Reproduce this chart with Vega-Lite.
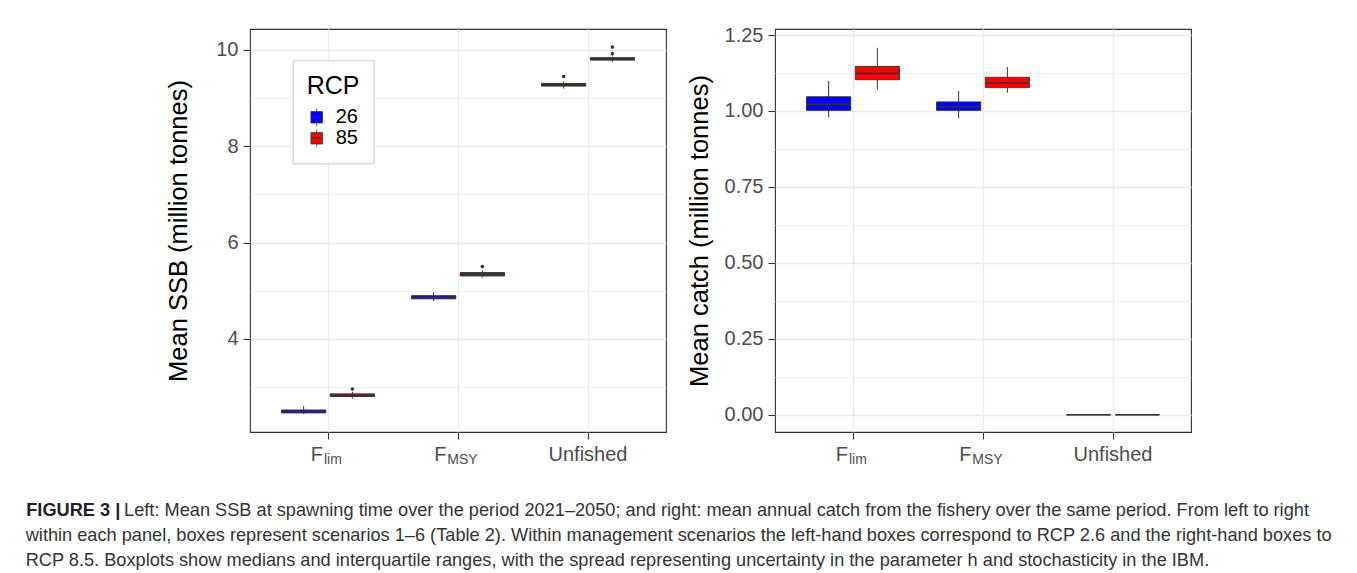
{
  "$schema": "https://vega.github.io/schema/vega-lite/v6.json",
  "padding": {"left": 25, "top": 24, "right": 5, "bottom": 0},
  "autosize": {"type": "pad"},
  "background": "#ffffff",
  "datasets": {
    "ssb": [
      {"scenario": "Flim", "rcp": "26", "lower": 2.44, "q1": 2.46, "median": 2.49, "q3": 2.52, "upper": 2.60},
      {"scenario": "Flim", "rcp": "85", "lower": 2.76, "q1": 2.80, "median": 2.825, "q3": 2.855, "upper": 2.90},
      {"scenario": "FMSY", "rcp": "26", "lower": 4.78, "q1": 4.83, "median": 4.86, "q3": 4.895, "upper": 4.97},
      {"scenario": "FMSY", "rcp": "85", "lower": 5.27, "q1": 5.305, "median": 5.34, "q3": 5.375, "upper": 5.42},
      {"scenario": "Unfished", "rcp": "26", "lower": 9.20, "q1": 9.25, "median": 9.28, "q3": 9.305, "upper": 9.35},
      {"scenario": "Unfished", "rcp": "85", "lower": 9.75, "q1": 9.79, "median": 9.815, "q3": 9.84, "upper": 9.86}
    ],
    "ssb_out": [
      {"scenario": "Flim", "rcp": "85", "value": 2.955},
      {"scenario": "FMSY", "rcp": "85", "value": 5.50},
      {"scenario": "Unfished", "rcp": "26", "value": 9.45},
      {"scenario": "Unfished", "rcp": "85", "value": 9.92},
      {"scenario": "Unfished", "rcp": "85", "value": 10.06}
    ],
    "catch": [
      {"scenario": "Flim", "rcp": "26", "lower": 0.980, "q1": 1.002, "median": 1.022, "q3": 1.047, "upper": 1.099},
      {"scenario": "Flim", "rcp": "85", "lower": 1.071, "q1": 1.103, "median": 1.124, "q3": 1.147, "upper": 1.208},
      {"scenario": "FMSY", "rcp": "26", "lower": 0.976, "q1": 1.002, "median": 1.013, "q3": 1.030, "upper": 1.066},
      {"scenario": "FMSY", "rcp": "85", "lower": 1.060, "q1": 1.077, "median": 1.092, "q3": 1.111, "upper": 1.145},
      {"scenario": "Unfished", "rcp": "26", "lower": 0, "q1": 0, "median": 0, "q3": 0, "upper": 0},
      {"scenario": "Unfished", "rcp": "85", "lower": 0, "q1": 0, "median": 0, "q3": 0, "upper": 0}
    ]
  },
  "spacing": 109,
  "bounds": "flush",
  "resolve": {"scale": {"fill": "independent", "xOffset": "independent"}},
  "title": {
    "text": [
      "within each panel, boxes represent scenarios 1–6 (Table 2). Within management scenarios the left-hand boxes correspond to RCP 2.6 and the right-hand boxes to",
      "RCP 8.5. Boxplots show medians and interquartile ranges, with the spread representing uncertainty in the parameter h and stochasticity in the IBM."
    ],
    "orient": "bottom",
    "anchor": "start",
    "dx": 0,
    "offset": 6.6,
    "font": "Liberation Sans",
    "fontSize": 18.2,
    "fontWeight": "normal",
    "color": "#333333",
    "lineHeight": 25.5
  },
  "hconcat": [
    {
      "width": 416,
      "height": 403,
      "data": {"name": "ssb"},
      "title": {"text": "FIGURE 3 |", "orient": "bottom", "anchor": "start", "dx": -140.5, "offset": 35.7,
        "font": "Liberation Sans", "fontSize": 18.2, "fontWeight": "bold", "color": "#222222"},
      "resolve": {"axis": {"x": "independent"}},
      "layer": [
        {
          "mark": {"type": "rule", "color": "#333333", "strokeWidth": 1},
          "encoding": {
            "x": {"field": "scenario", "type": "nominal", "sort": ["Flim", "FMSY", "Unfished"],
              "scale": {"type": "band", "paddingInner": 0, "paddingOuter": 0.1},
              "axis": {"orient": "bottom", "title": null, "domain": false, "grid": true, "gridColor": "#ebebeb", "gridWidth": 1.4,
                "ticks": true, "tickSize": 7, "tickColor": "#333333", "tickWidth": 1.1, "bandPosition": 0.5,
                "labelExpr": "datum.value == 'Unfished' ? 'Unfished' : 'F'",
                "labelAlign": {"condition": {"test": "datum.value == 'Unfished'", "value": "center"}, "value": "right"},
                "labelOffset": {"condition": [{"test": "datum.value == 'Flim'", "value": -5}, {"test": "datum.value == 'FMSY'", "value": -11.5}], "value": 0},
                "labelBaseline": "alphabetic", "labelPadding": 21, "labelFontSize": 20, "labelColor": "#4d4d4d", "labelAngle": 0,
                "labelOverlap": false, "labelBound": false, "labelFlush": false}},
            "xOffset": {"field": "rcp", "type": "nominal", "scale": {"type": "band", "paddingInner": 0.093, "paddingOuter": 0.38}},
            "y": {"field": "lower", "type": "quantitative",
              "scale": {"domain": [2.063, 10.436], "nice": false, "zero": false},
              "axis": {"title": "Mean SSB (million tonnes)", "values": [3, 4, 5, 6, 7, 8, 9, 10],
                "labelExpr": "datum.value % 2 == 0 ? datum.label : ''",
                "grid": true, "gridColor": "#ebebeb",
                "gridWidth": {"condition": {"test": "datum.value % 2 == 0", "value": 1.4}, "value": 0.7},
                "tickOpacity": {"condition": {"test": "datum.value % 2 == 0", "value": 1}, "value": 0},
                "titlePadding": 24}},
            "y2": {"field": "upper"}
          }
        },
        {
          "mark": {"type": "bar", "stroke": "#333333", "strokeWidth": 1},
          "encoding": {
            "x": {"field": "scenario", "type": "nominal", "sort": ["Flim", "FMSY", "Unfished"], "scale": {"type": "band"},
              "axis": {"orient": "bottom", "title": null, "domain": false, "grid": false,
                "ticks": true, "tickSize": 7, "tickOpacity": 0, "bandPosition": 0.5,
                "labelExpr": "datum.value == 'Flim' ? 'lim' : datum.value == 'FMSY' ? 'MSY' : ''",
                "labelAlign": "left",
                "labelOffset": {"condition": {"test": "datum.value == 'Flim'", "value": -4}, "value": -10.7},
                "labelBaseline": "alphabetic", "labelPadding": 24.5, "labelFontSize": 14, "labelColor": "#4d4d4d", "labelAngle": 0,
                "labelOverlap": false, "labelBound": false, "labelFlush": false}},
            "xOffset": {"field": "rcp", "type": "nominal", "scale": {"type": "band"}},
            "y": {"field": "q1", "type": "quantitative", "axis": {"title": "Mean SSB (million tonnes)"}},
            "y2": {"field": "q3"},
            "fill": {"field": "rcp", "type": "nominal",
              "scale": {"domain": ["26", "85"], "range": ["#0000ff", "#ff0000"]},
              "legend": {"title": "RCP", "orient": "none", "legendX": 42.7, "legendY": 31.3, "direction": "vertical",
                "titleFontSize": 25, "titleFontWeight": "normal", "titleColor": "#000000", "titleFont": "Liberation Sans",
                "labelFontSize": 20, "labelColor": "#000000", "labelFont": "Liberation Sans",
                "symbolType": "M-0.66,-0.65H0.66V0.65H-0.66Z M-0.66,0H0.66 M0,-1V-0.65 M0,0.65V1",
                "symbolSize": 306, "symbolStrokeColor": "#333333", "symbolStrokeWidth": 0.8, "symbolOpacity": 1,
                "strokeColor": "#cccccc", "fillColor": "#ffffff", "padding": 14, "titlePadding": 8, "labelOffset": 9, "rowPadding": -3}}
          }
        },
        {
          "mark": {"type": "tick", "color": "#333333", "size": 44, "thickness": 2, "opacity": 1},
          "encoding": {
            "x": {"field": "scenario", "type": "nominal", "sort": ["Flim", "FMSY", "Unfished"], "scale": {"type": "band"}, "axis": null},
            "xOffset": {"field": "rcp", "type": "nominal", "scale": {"type": "band"}},
            "y": {"field": "median", "type": "quantitative", "axis": {"title": "Mean SSB (million tonnes)"}}
          }
        },
        {
          "data": {"name": "ssb_out"},
          "mark": {"type": "point", "filled": true, "color": "#333333", "size": 13, "opacity": 1},
          "encoding": {
            "x": {"field": "scenario", "type": "nominal", "sort": ["Flim", "FMSY", "Unfished"], "scale": {"type": "band"}, "axis": null},
            "xOffset": {"field": "rcp", "type": "nominal", "scale": {"type": "band"}},
            "y": {"field": "value", "type": "quantitative", "axis": {"title": "Mean SSB (million tonnes)"}}
          }
        }
      ]
    },
    {
      "width": 416,
      "height": 403,
      "data": {"name": "catch"},
      "title": {"text": "Left: Mean SSB at spawning time over the period 2021–2050; and right: mean annual catch from the fishery over the same period. From left to right",
        "orient": "bottom", "anchor": "start", "dx": -563, "offset": 35.7,
        "font": "Liberation Sans", "fontSize": 18.2, "fontWeight": "normal", "color": "#333333"},
      "resolve": {"axis": {"x": "independent"}},
      "layer": [
        {
          "mark": {"type": "rule", "color": "#333333", "strokeWidth": 1},
          "encoding": {
            "x": {"field": "scenario", "type": "nominal", "sort": ["Flim", "FMSY", "Unfished"],
              "scale": {"type": "band", "paddingInner": 0, "paddingOuter": 0.1},
              "axis": {"orient": "bottom", "title": null, "domain": false, "grid": true, "gridColor": "#ebebeb", "gridWidth": 1.4,
                "ticks": true, "tickSize": 7, "tickColor": "#333333", "tickWidth": 1.1, "bandPosition": 0.5,
                "labelExpr": "datum.value == 'Unfished' ? 'Unfished' : 'F'",
                "labelAlign": {"condition": {"test": "datum.value == 'Unfished'", "value": "center"}, "value": "right"},
                "labelOffset": {"condition": [{"test": "datum.value == 'Flim'", "value": -5}, {"test": "datum.value == 'FMSY'", "value": -11.5}], "value": 0},
                "labelBaseline": "alphabetic", "labelPadding": 21, "labelFontSize": 20, "labelColor": "#4d4d4d", "labelAngle": 0,
                "labelOverlap": false, "labelBound": false, "labelFlush": false}},
            "xOffset": {"field": "rcp", "type": "nominal", "scale": {"type": "band", "paddingInner": 0.093, "paddingOuter": 0.38}},
            "y": {"field": "lower", "type": "quantitative",
              "scale": {"domain": [-0.057, 1.27], "nice": false, "zero": false},
              "axis": {"title": "Mean catch (million tonnes)",
                "values": [0, 0.125, 0.25, 0.375, 0.5, 0.625, 0.75, 0.875, 1, 1.125, 1.25],
                "labelExpr": "round(datum.value * 8) % 2 == 0 ? format(datum.value, '.2f') : ''",
                "grid": true, "gridColor": "#ebebeb",
                "gridWidth": {"condition": {"test": "round(datum.value * 8) % 2 == 0", "value": 1.4}, "value": 0.7},
                "tickOpacity": {"condition": {"test": "round(datum.value * 8) % 2 == 0", "value": 1}, "value": 0},
                "titlePadding": 12}},
            "y2": {"field": "upper"}
          }
        },
        {
          "mark": {"type": "bar", "stroke": "#333333", "strokeWidth": 0.9},
          "encoding": {
            "x": {"field": "scenario", "type": "nominal", "sort": ["Flim", "FMSY", "Unfished"], "scale": {"type": "band"},
              "axis": {"orient": "bottom", "title": null, "domain": false, "grid": false,
                "ticks": true, "tickSize": 7, "tickOpacity": 0, "bandPosition": 0.5,
                "labelExpr": "datum.value == 'Flim' ? 'lim' : datum.value == 'FMSY' ? 'MSY' : ''",
                "labelAlign": "left",
                "labelOffset": {"condition": {"test": "datum.value == 'Flim'", "value": -4}, "value": -10.7},
                "labelBaseline": "alphabetic", "labelPadding": 24.5, "labelFontSize": 14, "labelColor": "#4d4d4d", "labelAngle": 0,
                "labelOverlap": false, "labelBound": false, "labelFlush": false}},
            "xOffset": {"field": "rcp", "type": "nominal", "scale": {"type": "band"}},
            "y": {"field": "q1", "type": "quantitative", "axis": {"title": "Mean catch (million tonnes)"}},
            "y2": {"field": "q3"},
            "fill": {"field": "rcp", "type": "nominal",
              "scale": {"domain": ["26", "85"], "range": ["#0000ff", "#ff0000"]},
              "legend": null}
          }
        },
        {
          "mark": {"type": "tick", "color": "#333333", "size": 44, "thickness": 1.6, "opacity": 1},
          "encoding": {
            "x": {"field": "scenario", "type": "nominal", "sort": ["Flim", "FMSY", "Unfished"], "scale": {"type": "band"}, "axis": null},
            "xOffset": {"field": "rcp", "type": "nominal", "scale": {"type": "band"}},
            "y": {"field": "median", "type": "quantitative", "axis": {"title": "Mean catch (million tonnes)"}}
          }
        }
      ]
    }
  ],
  "config": {
    "font": "Liberation Sans",
    "view": {"stroke": "#333333", "strokeWidth": 1.1},
    "axis": {
      "labelFont": "Liberation Sans", "titleFont": "Liberation Sans", "titleFontWeight": "normal",
      "titleFontSize": 25.5, "titleColor": "#000000", "labelColor": "#4d4d4d", "labelFontSize": 20,
      "gridColor": "#ebebeb", "domain": false, "tickColor": "#333333", "tickSize": 7, "tickWidth": 1.1, "labelPadding": 5
    }
  }
}
